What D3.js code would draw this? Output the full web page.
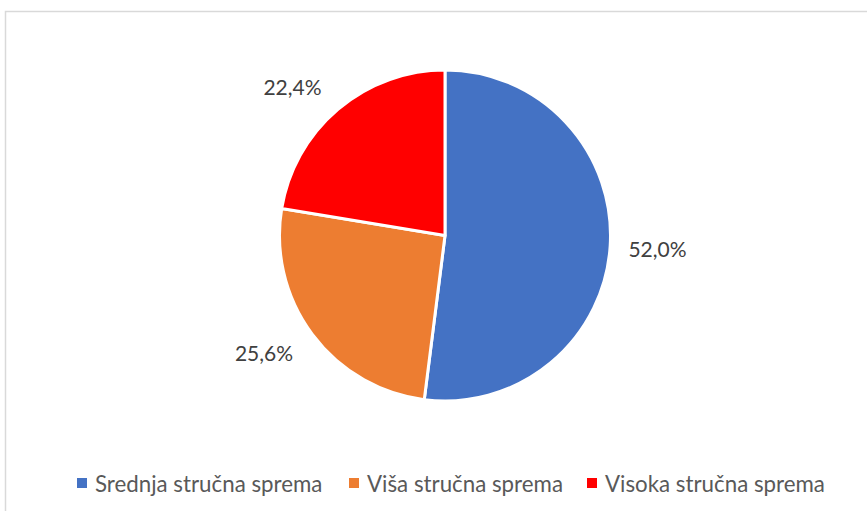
<!DOCTYPE html>
<html><head><meta charset="utf-8">
<script src="https://cdn.jsdelivr.net/npm/d3@7"></script>
<style>body{margin:0;background:#fff}svg{display:block}</style>
</head><body>
<svg id="c" width="867" height="511"></svg>
<script>
const categories = ["Srednja stručna sprema", "Viša stručna sprema", "Visoka stručna sprema"];
const values = [52.0, 25.6, 22.4];
const valueLabels = ["52,0%", "25,6%", "22,4%"];
const colors = ["#4472C4", "#ED7D31", "#FF0000"];

const svg = d3.select("#c");
const font = "Lato, 'Open Sans', sans-serif";
svg.append("rect").attr("x", 5.5).attr("y", 11.5).attr("width", 880).attr("height", 520)
  .attr("fill", "#fff").attr("stroke", "#d9d9d9").attr("stroke-width", 1.5);

const cx = 445, cy = 235.5, r = 165.5;
const pie = d3.pie().sort(null).value(d => d)(values);
const arc = d3.arc().innerRadius(0).outerRadius(r);
const g = svg.append("g").attr("transform", `translate(${cx},${cy})`);
g.selectAll("path").data(pie).join("path")
  .attr("d", arc).attr("fill", (d, i) => colors[i])
  .attr("stroke", "#fff").attr("stroke-width", 3).attr("stroke-linejoin", "round");

const labelPos = [[212.5, 13], [-181, 116.5], [-152.5, -149.5]];
g.selectAll("text.lbl").data(pie).join("text").attr("class", "lbl")
  .attr("x", (d, i) => labelPos[i][0]).attr("y", (d, i) => labelPos[i][1])
  .attr("text-anchor", "middle").attr("dominant-baseline", "central")
  .attr("font-family", font).attr("font-size", 21).attr("fill", "#404040")
  .text((d, i) => valueLabels[i]);

const legX = [77, 349, 587];
const leg = svg.append("g");
categories.forEach((c, i) => {
  leg.append("rect").attr("x", legX[i]).attr("y", 478).attr("width", 10).attr("height", 10).attr("fill", colors[i]);
  leg.append("text").attr("x", legX[i] + 18).attr("y", 483.5).attr("dominant-baseline", "central")
    .attr("font-family", font).attr("font-size", 22.3).attr("fill", "#595959").text(c);
});
</script>
</body></html>
